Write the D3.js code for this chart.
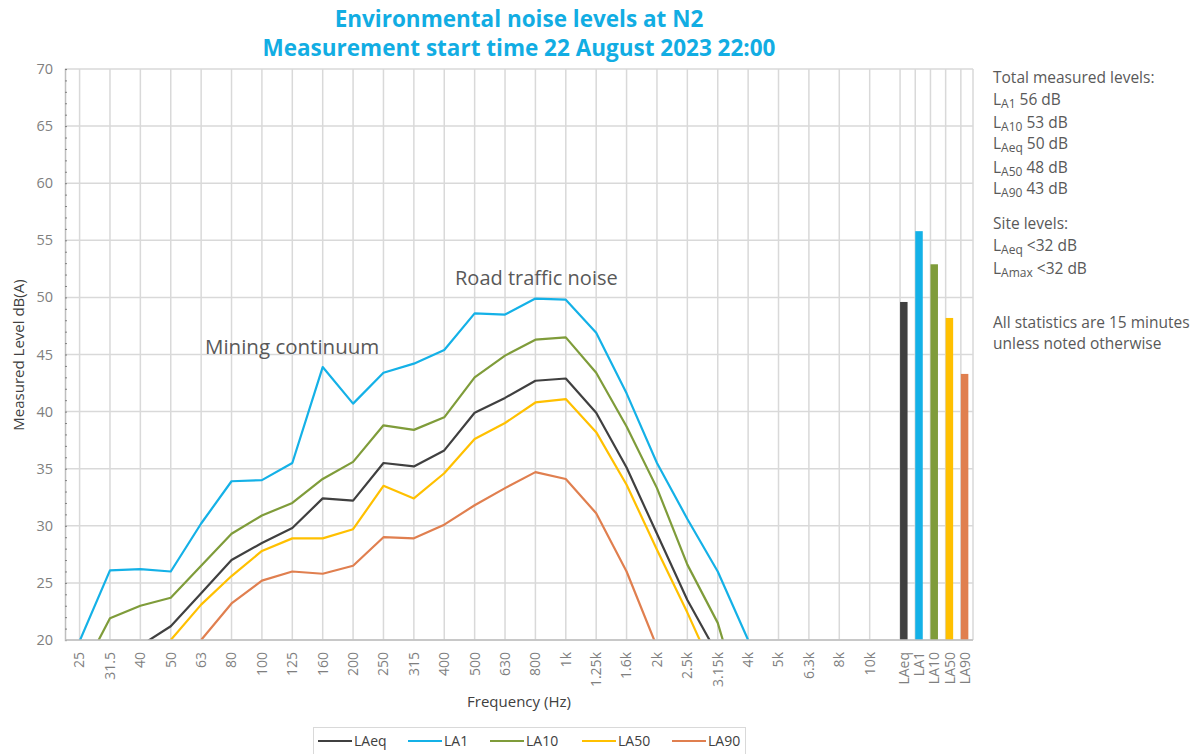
<!DOCTYPE html>
<html>
<head>
<meta charset="utf-8">
<script src="https://d3js.org/d3.v7.min.js"></script>
<style>
  body { margin: 0; background: #fff; }
  svg { font-family: "Open Sans", sans-serif; }
</style>
</head>
<body>
<svg width="1194" height="754"></svg>
<script>
// third-octave bands (Hz)
const freqs = ['25','31.5','40','50','63','80','100','125','160','200','250','315','400','500','630','800','1k','1.25k','1.6k','2k','2.5k','3.15k','4k','5k','6.3k','8k','10k'];

// spectra, dB(A) - null where the value is off the bottom of the chart
const LAeq = [null,null,19.5,21.2,24.1,27.0,28.5,29.8,32.4,32.2,35.5,35.2,36.6,39.9,41.2,42.7,42.9,39.9,35.1,29.3,23.5,18.7,null,null,null,null,null];
const LA1  = [19.9,26.1,26.2,26.0,30.2,33.9,34.0,35.5,43.9,40.7,43.4,44.2,45.4,48.6,48.5,49.9,49.8,46.9,41.6,35.5,30.6,26.0,20.0,null,null,null,null];
const LA10 = [16.8,21.9,23.0,23.7,26.5,29.3,30.9,32.0,34.1,35.6,38.8,38.4,39.5,43.0,44.9,46.3,46.5,43.4,38.7,33.3,26.6,21.5,12.5,null,null,null,null];
const LA50 = [null,null,null,20.0,23.1,25.6,27.8,28.9,28.9,29.7,33.5,32.4,34.6,37.6,39.0,40.8,41.1,38.2,33.6,27.9,22.4,16.5,null,null,null,null,null];
const LA90 = [null,null,null,null,20.0,23.2,25.2,26.0,25.8,26.5,29.0,28.9,30.1,31.8,33.3,34.7,34.1,31.1,26.0,19.4,null,null,null,null,null,null,null];

// total measured levels (bars)
const stats = ['LAeq','LA1','LA10','LA50','LA90'];
const totals = [49.6, 55.8, 52.9, 48.2, 43.3];

const yTicks = [20,25,30,35,40,45,50,55,60,65,70];

const colors = { LAeq:'#404040', LA1:'#14b1e7', LA10:'#7f9c3a', LA50:'#ffc000', LA90:'#e07f4f' };
const series = [
  {name:'LAeq', values:LAeq},
  {name:'LA1', values:LA1},
  {name:'LA10', values:LA10},
  {name:'LA50', values:LA50},
  {name:'LA90', values:LA90}
];

const svg = d3.select('svg');
const plotL = 65, plotR = 973, plotT = 69, plotB = 640;

// category index -> x ; frequencies at 0..26, bars at half steps after
const x = d3.scaleLinear().domain([-0.48, 29.4]).range([plotL, plotR]);
const barX = d3.scalePoint().domain(stats).range([x(27), x(29)]);
const y = d3.scaleLinear().domain([20, 70]).range([plotB, plotT]);

// horizontal gridlines
svg.append('g').selectAll('line').data(yTicks).enter().append('line')
  .attr('x1', plotL).attr('x2', plotR)
  .attr('y1', d => y(d)).attr('y2', d => y(d))
  .attr('stroke', '#d9d9d9').attr('stroke-width', 1.5);

// vertical gridlines
svg.append('g').selectAll('line').data(freqs).enter().append('line')
  .attr('x1', (d,i) => x(i)).attr('x2', (d,i) => x(i))
  .attr('y1', plotT).attr('y2', plotB)
  .attr('stroke', '#d9d9d9').attr('stroke-width', 1.5);
svg.append('g').selectAll('line').data(stats).enter().append('line')
  .attr('x1', d => barX(d)).attr('x2', d => barX(d))
  .attr('y1', plotT).attr('y2', plotB)
  .attr('stroke', '#d9d9d9').attr('stroke-width', 1.5);
svg.append('line').attr('x1', plotR).attr('x2', plotR).attr('y1', plotT).attr('y2', plotB)
  .attr('stroke', '#d9d9d9').attr('stroke-width', 1.5);

// y axis
const yAxis = svg.append('g').attr('transform', `translate(${plotL},0)`)
  .call(d3.axisRight(y).ticks(50).tickSize(2).tickFormat(''));
yAxis.select('.domain').attr('stroke', '#bfbfbf').attr('stroke-width', 1.5);
yAxis.selectAll('.tick line').attr('stroke', '#7f7f7f');

svg.append('g').selectAll('text').data(yTicks).enter().append('text')
  .attr('x', 53).attr('y', d => y(d)).attr('dy', '0.35em')
  .attr('text-anchor', 'end').attr('fill', '#7f7f7f').style('font-size', '14.5px')
  .text(d => d);

// bars
svg.append('g').selectAll('rect').data(stats).enter().append('rect')
  .attr('x', d => barX(d)).attr('width', 7.5)
  .attr('y', (d,i) => y(totals[i])).attr('height', (d,i) => y(20) - y(totals[i]))
  .attr('fill', d => colors[d]);

// lines
svg.append('clipPath').attr('id', 'plot').append('rect')
  .attr('x', plotL).attr('y', plotT).attr('width', plotR - plotL).attr('height', plotB - plotT);
const line = d3.line().defined(d => d != null).x((d,i) => x(i)).y(d => y(d));
svg.append('g').attr('clip-path', 'url(#plot)')
  .selectAll('path').data(series).enter().append('path')
  .attr('d', d => line(d.values))
  .attr('fill', 'none').attr('stroke', d => colors[d.name])
  .attr('stroke-width', 2.2).attr('stroke-linejoin', 'round');

// x axis line
svg.append('line').attr('x1', plotL).attr('x2', plotR).attr('y1', plotB).attr('y2', plotB)
  .attr('stroke', '#bfbfbf').attr('stroke-width', 1.5);

// x tick labels
svg.append('g').selectAll('text').data(freqs).enter().append('text')
  .attr('transform', (d,i) => `translate(${x(i)},652) rotate(-90)`)
  .attr('dy', '0.35em').attr('text-anchor', 'end')
  .attr('fill', '#7f7f7f').style('font-size', '14px').text(d => d);
svg.append('g').selectAll('text').data(stats).enter().append('text')
  .attr('transform', d => `translate(${barX(d) + 4},652) rotate(-90)`)
  .attr('dy', '0.35em').attr('text-anchor', 'end')
  .attr('fill', '#7f7f7f').style('font-size', '14px').text(d => d);

// titles
svg.append('text').attr('x', 519).attr('y', 27).attr('text-anchor', 'middle')
  .attr('fill', '#12ade3').style('font-size', '22.5px').style('font-weight', 'bold')
  .text('Environmental noise levels at N2');
svg.append('text').attr('x', 519).attr('y', 56).attr('text-anchor', 'middle')
  .attr('fill', '#12ade3').style('font-size', '22.5px').style('font-weight', 'bold')
  .text('Measurement start time 22 August 2023 22:00');

svg.append('text').attr('transform', 'translate(24,355) rotate(-90)')
  .attr('text-anchor', 'middle').attr('fill', '#404040').style('font-size', '15px')
  .text('Measured Level dB(A)');
svg.append('text').attr('x', 519).attr('y', 707).attr('text-anchor', 'middle')
  .attr('fill', '#404040').style('font-size', '15px')
  .text('Frequency (Hz)');

// annotations
svg.append('text').attr('x', 205).attr('y', 354).attr('fill', '#595959')
  .style('font-size', '20.5px').text('Mining continuum');
svg.append('text').attr('x', 455).attr('y', 285).attr('fill', '#595959')
  .style('font-size', '20px').text('Road traffic noise');

// side notes
const notes = [
  {y: 83, text: 'Total measured levels:'},
  {y: 105, sub: 'A1', text: ' 56 dB'},
  {y: 128, sub: 'A10', text: ' 53 dB'},
  {y: 149, sub: 'Aeq', text: ' 50 dB'},
  {y: 173, sub: 'A50', text: ' 48 dB'},
  {y: 194, sub: 'A90', text: ' 43 dB'},
  {y: 229, text: 'Site levels:'},
  {y: 251, sub: 'Aeq', text: ' <32 dB'},
  {y: 274, sub: 'Amax', text: ' <32 dB'},
  {y: 328, text: 'All statistics are 15 minutes'},
  {y: 349, text: 'unless noted otherwise'}
];
notes.forEach(n => {
  const t = svg.append('text').attr('x', 993).attr('y', n.y)
    .attr('fill', '#595959').style('font-size', '15.5px');
  if (n.sub) {
    t.append('tspan').text('L');
    t.append('tspan').attr('dy', 3).style('font-size', '12px').text(n.sub);
    t.append('tspan').attr('dy', -3).text(n.text);
  } else {
    t.text(n.text);
  }
});

// legend
const legend = svg.append('g');
legend.append('rect').attr('x', 313.5).attr('y', 727.5).attr('width', 432).attr('height', 32)
  .attr('fill', 'white').attr('stroke', '#d9d9d9');
const legX = [318, 408, 490, 582, 672];
series.forEach((s, i) => {
  legend.append('line').attr('x1', legX[i]).attr('x2', legX[i] + 34)
    .attr('y1', 741).attr('y2', 741)
    .attr('stroke', colors[s.name]).attr('stroke-width', 2.2);
  legend.append('text').attr('x', legX[i] + 36).attr('y', 741).attr('dy', '0.35em')
    .attr('fill', '#404040').style('font-size', '14px').text(s.name);
});
</script>
</body>
</html>
